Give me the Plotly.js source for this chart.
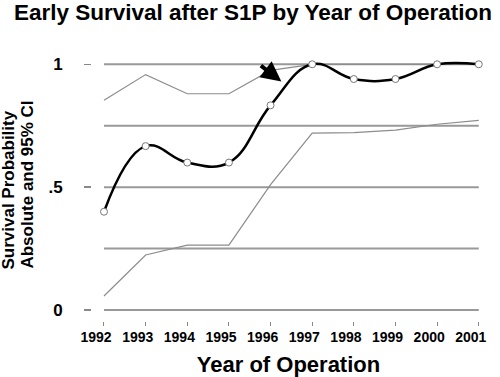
<!DOCTYPE html>
<html><head><meta charset="utf-8">
<script src="https://cdn.plot.ly/plotly-3.0.1.min.js"></script>
<style>html,body{margin:0;padding:0;background:#fff}#chart{width:500px;height:377px}</style>
</head><body><div id="chart"></div>
<script>
const years = [1992,1993,1994,1995,1996,1997,1998,1999,2000,2001];
const survival = [0.40,0.667,0.60,0.60,0.833,1.0,0.94,0.94,1.0,1.0];
const upperCI = [0.854,0.958,0.88,0.88,0.975,1.0,1.0,1.0,1.0,1.0];
const lowerCI = [0.057,0.224,0.264,0.264,0.51,0.72,0.722,0.732,0.756,0.772];
const gridLevels = [0,0.25,0.5,0.75,1];
const yTickVals = [0,0.5,1];
const yTickText = ['0','.5','1'];
const yTitleLines = ['Survival Probability','Absolute and 95% CI'];

const font = 'Liberation Sans, Arial, sans-serif';
const xRange = [1991.712, 2001.15];
const labelShift = 0.19; // tick labels sit slightly left of tick marks in the original
const shapes = gridLevels.map(v => ({type:'line', xref:'x', yref:'y', x0:years[0], x1:years[years.length-1], y0:v, y1:v, line:{color:'#999', width:2}, layer:'below'}));

const traces = [
  {x:years, y:upperCI, mode:'lines', line:{color:'#8c8c8c', width:1.2}, hoverinfo:'skip'},
  {x:years, y:lowerCI, mode:'lines', line:{color:'#8c8c8c', width:1.2}, hoverinfo:'skip'},
  {x:years, y:survival, mode:'lines+markers', line:{color:'#000', width:2.5, shape:'spline', smoothing:1.2},
   marker:{symbol:'circle', size:7, color:'#fff', line:{color:'#777', width:1}}}
];

const layout = {
  width:500, height:377, showlegend:false,
  paper_bgcolor:'#fff', plot_bgcolor:'#fff',
  margin:{l:92, r:15, t:51.7, b:56},
  font:{family:font, color:'#000'},
  title:{text:'Early Survival after S1P by Year of Operation', font:{size:22.5, family:font, weight:'bold'}, x:0.506, xanchor:'center', y:0.968, yanchor:'middle'},
  xaxis:{range:xRange, tickvals:years, ticks:'outside', ticklen:4, tickcolor:'#888', tickwidth:1,
         showgrid:false, zeroline:false, showline:false, showticklabels:false},
  xaxis2:{overlaying:'x', anchor:'y', side:'bottom', range:[xRange[0]+labelShift, xRange[1]+labelShift], tickvals:years, ticks:'',
         showgrid:false, zeroline:false, showline:false, tickfont:{size:14, family:font, weight:'bold'}, ticklabelstandoff:6,
         title:{text:'Year of Operation', font:{size:22, family:font, weight:'bold'}, standoff:13}},
  yaxis:{range:[-0.0447,1.05], tickvals:yTickVals, ticktext:yTickText, ticks:'outside', ticklen:7, tickcolor:'#888', tickwidth:1.5,
         showgrid:false, zeroline:false, showline:false, tickfont:{size:17, family:font, weight:'bold'}, ticklabelstandoff:18},
  shapes:shapes,
  annotations:[
    {x:1996.26, y:0.93, xref:'x', yref:'y', ax:-22, ay:-17, axref:'pixel', ayref:'pixel', text:'', showarrow:true,
     arrowhead:2, arrowsize:1, arrowwidth:4, arrowcolor:'#000'},
    {text:yTitleLines[0], xref:'paper', yref:'paper', x:-0.2112, y:0.1857, xanchor:'center', yanchor:'bottom', textangle:-90, showarrow:false,
     font:{size:17, family:font, weight:'bold'}},
    {text:yTitleLines[1], xref:'paper', yref:'paper', x:-0.1641, y:0.1857, xanchor:'center', yanchor:'bottom', textangle:-90, showarrow:false,
     font:{size:17, family:font, weight:'bold'}}
  ]
};
// invisible helper trace so xaxis2 is drawn (carries the tick labels and title)
traces.push({x:years, y:survival, xaxis:'x2', yaxis:'y', mode:'none', hoverinfo:'skip'});
Plotly.newPlot('chart', traces, layout, {displayModeBar:false, staticPlot:true});
</script></body></html>
